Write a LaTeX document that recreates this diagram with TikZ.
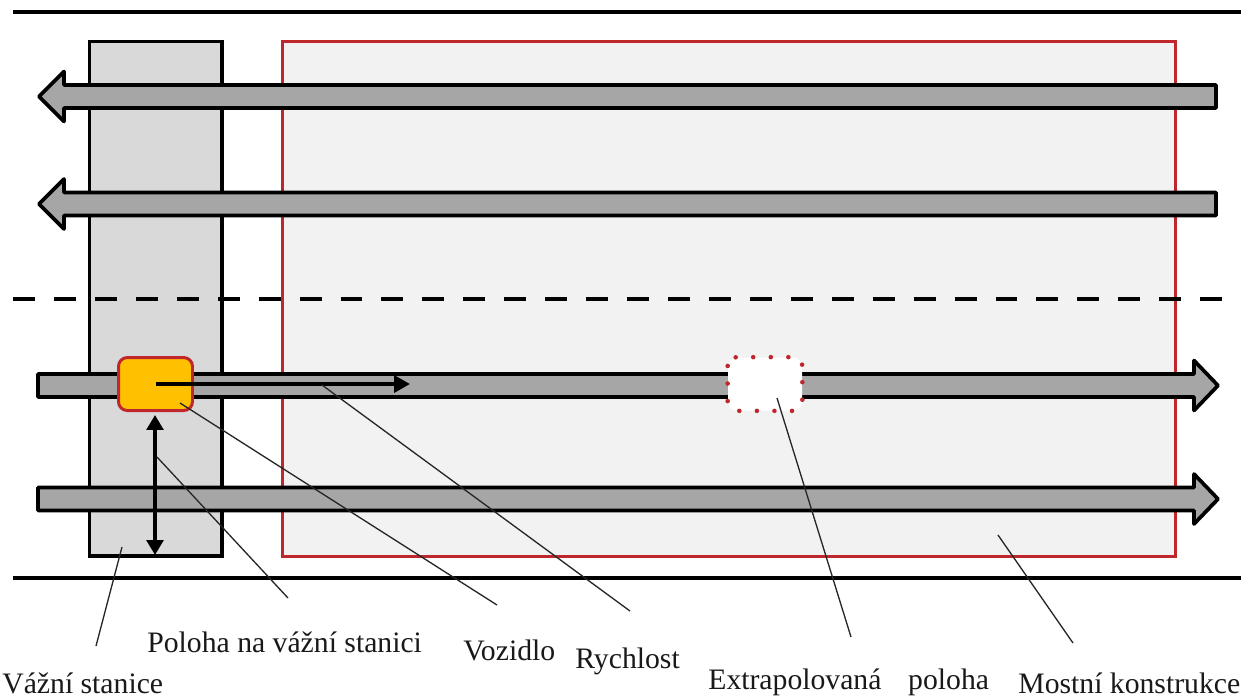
\documentclass[tikz,border=0pt]{standalone}
\usepackage{fontspec}
\setmainfont{Liberation Serif}
\usetikzlibrary{arrows.meta}
\definecolor{bridgered}{HTML}{C0272D}
\definecolor{stationgray}{HTML}{D9D9D9}
\definecolor{bridgefill}{HTML}{F2F2F2}
\definecolor{lanegray}{HTML}{A6A6A6}
\definecolor{vehicleyellow}{HTML}{FFC000}
\newcommand{\laneLeft}[2]{%
  \draw[lanestyle] (39,#1) -- (64,#1-25) -- (64,#1-11.5) -- (1216,#1-11.5) -- (1216,#1+11.5) -- (64,#1+11.5) -- (64,#1+25) -- cycle;}
\newcommand{\laneRight}[2]{%
  \draw[lanestyle] (1218,#1) -- (1194,#1-25) -- (1194,#1-11.5) -- (38,#1-11.5) -- (38,#1+11.5) -- (1194,#1+11.5) -- (1194,#1+25) -- cycle;}
\begin{document}
\begin{tikzpicture}[x=0.02cm,y=-0.02cm,
  lanestyle/.style={draw=black,fill=lanegray,line width=2.1pt,line join=round},
  edgeline/.style={line width=2.2pt},
  leader/.style={draw=black!85,line width=0.75pt},
  labeltext/.style={font=\fontsize{16.9}{19}\selectfont,anchor=base west,inner sep=0pt,text=black!90},
  carbox/.style={minimum width=1.48cm,minimum height=1.06cm,inner sep=0pt,rounded corners=5pt}
]
\useasboundingbox (0,0) rectangle (1257,698);
\fill[white] (0,0) rectangle (1257,698);
% road edges
\coordinate (topL) at (13,12); \coordinate (topR) at (1241,12);
\coordinate (botL) at (13,578); \coordinate (botR) at (1241,578);
\draw[edgeline] (topL) -- (topR);
\draw[edgeline] (botL) -- (botR);
% weigh station and bridge
\node[draw=black,fill=stationgray,line width=2.1pt,minimum width=2.65cm,minimum height=10.29cm,inner sep=0pt] (station) at (155.75,298.75) {};
\node[draw=bridgered,fill=bridgefill,line width=1.6pt,minimum width=17.86cm,minimum height=10.3cm,inner sep=0pt] (bridge) at (729,299) {};
% centre dashed line
\coordinate (dashL) at (13,299); \coordinate (dashR) at (1241,299);
\draw[line width=2.2pt,dash pattern=on 12.5pt off 10.8pt] (dashL) -- (dashR);
% lanes
\laneLeft{96.5}{}
\laneLeft{204}{}
\laneRight{385.5}{}
\laneRight{499}{}
% vehicle and extrapolated position
\node[carbox,draw=bridgered,fill=vehicleyellow,line width=1.7pt] (vehicle) at (155.5,384) {};
\node[carbox,fill=white] (extrap) at (765,384) {};
\draw[bridgered,line width=2.6pt,line cap=round,dash pattern=on 0pt off 10pt,rounded corners=5pt]
  (extrap.north west) rectangle (extrap.south east);
% speed arrow
\coordinate (speedtip) at (410,384);
\draw[line width=2.2pt,-{Triangle[length=9pt,width=9.5pt]}] (vehicle.center) -- (speedtip);
% position on weigh station
\coordinate (posTop) at (155,415); \coordinate (posBot) at (155,555);
\draw[line width=2pt,{Triangle[length=8.5pt,width=9.5pt]}-{Triangle[length=8.5pt,width=9.5pt]}] (posTop) -- (posBot);
% labels
\node[labeltext] (lStation) at (2,693) {Vážní stanice};
\node[labeltext] (lPos) at (147,652) {Poloha na vážní stanici};
\node[labeltext] (lVeh) at (463,660) {Vozidlo};
\node[labeltext] (lSpeed) at (575,668) {Rychlost};
\node[labeltext] (lExtrap) at (708,689) {Extrapolovaná\hspace{0.9em}poloha};
\node[labeltext] (lBridge) at (1018,693) {Mostní konstrukce};
% leader lines
\coordinate (sStation) at (122,547); \coordinate (eStation) at (96,646);
\coordinate (sPos) at (157,457); \coordinate (ePos) at (288,598);
\coordinate (sVeh) at (180,403); \coordinate (eVeh) at (497,605);
\coordinate (sSpeed) at (322,385); \coordinate (eSpeed) at (630,611);
\coordinate (sExtrap) at (777,398); \coordinate (eExtrap) at (851,637);
\coordinate (sBridge) at (998,535); \coordinate (eBridge) at (1073,643);
\draw[leader] (sStation) -- (eStation);
\draw[leader] (sPos) -- (ePos);
\draw[leader] (sVeh) -- (eVeh);
\draw[leader] (sSpeed) -- (eSpeed);
\draw[leader] (sExtrap) -- (eExtrap);
\draw[leader] (sBridge) -- (eBridge);
\end{tikzpicture}
\end{document}
